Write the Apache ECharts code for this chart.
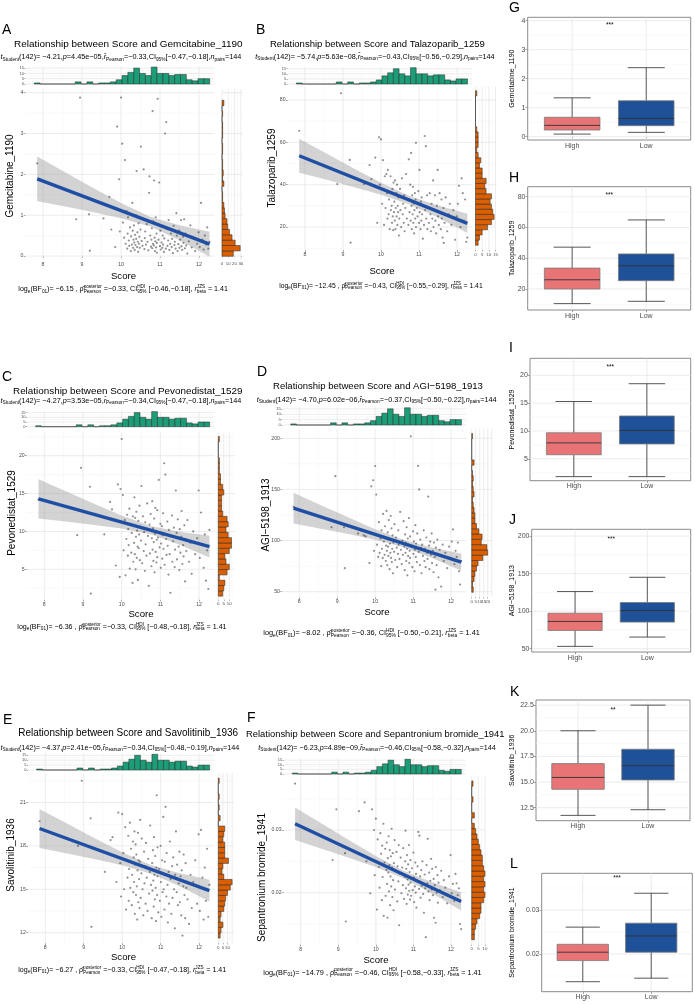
<!DOCTYPE html>
<html>
<head>
<meta charset="utf-8">
<script src="https://cdn.jsdelivr.net/npm/echarts@6/dist/echarts.min.js"></script>
<style>
  html, body { margin: 0; padding: 0; background: #fff; }
  #chart { width: 695px; height: 1004px; }
</style>
</head>
<body>
<div id="chart"></div>
<script>
// Score of the 144 cell lines (shared by the six scatter panels)
const score = [7.85,
  8.85, 8.95, 9.18, 9.2, 9.55, 9.7, 9.75, 9.85,
  9.9, 9.95, 9.97, 10.0,
  10.03, 10.05, 10.08, 10.1, 10.12, 10.14, 10.16, 10.17,
  10.18, 10.2, 10.21, 10.23, 10.25, 10.26, 10.28, 10.29, 10.3, 10.31, 10.32,
  10.33, 10.34, 10.35, 10.36, 10.37, 10.38, 10.39, 10.4, 10.41, 10.42, 10.43, 10.44, 10.45, 10.46, 10.47,
  10.48, 10.5, 10.51, 10.53, 10.55, 10.57, 10.58, 10.6, 10.61, 10.62,
  10.64, 10.66, 10.68, 10.7, 10.72, 10.73, 10.75, 10.77,
  10.78, 10.79, 10.8, 10.81, 10.82, 10.83, 10.84, 10.85, 10.86, 10.87, 10.88, 10.89, 10.9, 10.91, 10.92, 10.92,
  10.94, 10.96, 10.98, 11.0, 11.01, 11.02, 11.04, 11.05, 11.06, 11.07,
  11.08, 11.1, 11.11, 11.13, 11.15, 11.16, 11.18, 11.19, 11.21, 11.22,
  11.24, 11.26, 11.28, 11.3, 11.31, 11.33, 11.35, 11.37,
  11.38, 11.4, 11.42, 11.43, 11.45, 11.47, 11.49, 11.5, 11.52,
  11.54, 11.55, 11.57, 11.59, 11.6, 11.62, 11.64, 11.65, 11.67,
  11.7, 11.74, 11.78, 11.81, 11.85, 11.9, 11.95,
  11.99, 12.02, 12.05, 12.09, 12.12, 12.15, 12.18, 12.21, 12.24, 12.27];

const gemcitabine = [2.27,0.9,3.88,1.02,0.13,0.92,1.45,0.65,0.22,3.17,
  1.88,0.6,3.88,2.75,0.82,0.45,2.35,0.3,1.1,0.18, 0.55,0.95,0.38,0.25,0.7,0.12,0.48,0.28,1.3,0.62,
  0.2,0.4,0.75,0.33,0.15,0.52,0.27,1.0,0.42,2.08, 0.22,0.58,0.35,0.1,0.8,0.3,0.47,0.2,0.65,2.68,
  0.37,0.25,0.9,2.12,0.17,0.44,0.6,0.28,0.78,0.35, 0.14,1.55,1.95,0.5,0.23,0.4,0.68,0.19,3.55,0.3,
  0.85,0.26,1.85,0.45,0.12,0.36,0.95,0.21,0.55,0.32, 0.08,3.85,0.4,1.8,0.24,0.62,0.16,0.33,0.72,0.2,
  0.5,0.28,0.1,0.43,3.0,0.18,3.28,0.66,0.25,0.38, 0.88,0.15,0.3,0.55,0.22,0.42,0.07,0.74,0.27,0.35,
  0.18,1.05,0.5,0.12,0.29,0.62,0.2,0.4,0.88,0.24, 0.15,0.47,0.32,0.9,0.19,0.55,0.26,0.06,0.36,0.75,
  0.21,0.45,0.12,0.3,0.58,0.22,1.3,0.4,0.16,0.5, 0.28,0.7,0.18,0.35];
const talazoparib = [65.5,40.3,83.2,51.7,12.6,40.3,49.3,42.7,52.8,22.0,
  62.4,40,61.4,31,51.6,21,44,29,45,36, 24,47,26,33,19,44,28,30,22,38,
  25,18.5,41,27,32,23,42,19,29,36, 25,40,21,30,27,34,16,24,38,28,
  20,43,26,31,22,35,18,29,45,24, 33,21,52,27,40,23,55,30,19,35,
  26,39,22,31,17,28,36,24,33,59.8, 20,29,25,37,22,47,27,19,32,23,
  34,26,14.5,30,21,63,28,58.2,24,35, 19,29,22,36,26,18,31,24,42,20,
  28,35,23,17,30,47,25,21,36,27, 19,33,24,15,29,12.5,22,34,18,26,
  31,21,28,14,25,31,39.5,20,43,36, 23,33,13,15];
const pevonedistat = [14.2,9.5,18.4,15.9,1.8,9.6,13.9,12.9,5.5,16.2,
  4.0,15.6,22.2,14.8,7.5,11.5,4.2,9.0,12.2,6.8, 10.3,8.2,13.0,5.1,11.0,7.2,9.8,3.2,12.0,6.0,
  10.8,8.5,14.5,7.0,11.8,5.0,9.3,12.6,6.5,10.1, 8.0,3.6,11.4,7.8,9.6,13.4,6.2,10.6,8.8,16.0,
  5.8,12.0,7.4,9.9,4.8,11.2,8.3,6.8,13.7,9.4, 2.8,10.9,7.1,12.3,5.4,9.1,14.0,7.6,10.4,6.1,
  8.6,11.7,4.6,9.7,13.1,7.3,10.0,5.9,8.9,12.8, 6.6,9.2,16.8,7.9,11.0,5.2,8.4,10.7,6.4,9.5,
  12.4,7.7,19.0,5.6,17.5,9.0,6.9,11.3,8.1,4.3, 10.2,7.0,1.9,9.4,12.1,6.0,8.7,10.5,5.3,7.6,
  15.4,9.8,6.3,11.6,8.0,4.9,10.3,7.2,9.3,12.7, 5.7,8.2,6.7,10.8,3.4,9.0,7.4,11.5,6.0,8.5,
  4.4,10.0,7.0,9.1,15.4,6.5,12.5,8.3,5.2,9.6, 3.5,7.5,2.4,10.2];
const agi5198 = [133,113,163,113,73,107,105,104,78,153,
  159,90,172.9,145,96,84,118,88,102,75, 110,92,83,126,99,86,114,80,95,129,
  90,76,108,94,85,120,101,72,97,88, 124,83,112,79,92,105,68,98,89,116,
  81,103,93,74,87,110,96,82,128,91, 77,100,86,119,94,71,106,88,98,80,
  113,92,66,102,85,96,122,78,90,104, 83,202,95,74,109,87,99,70,91,115,
  84,97,79,107,173,89,150,76,101,93, 68,96,85,110,80,92,74,103,88,82,
  143,95,72,99,86,107,78,90,69,98, 84,52,93,76,101,87,64,91,55,96,
  80,88,73,94,83,99,111,77,90,84, 98,70,57,80];
const savolitinib = [19.7,18.0,22.5,19.9,12.4,16.2,18.4,18.6,15.5,20.3,
  16.8,14.5,20.2,17.5,15.0,19.3,13.6,17.0,15.8,18.7, 14.2,16.4,19.6,15.1,17.8,13.9,16.0,18.3,14.8,17.2,
  15.5,19.0,13.3,16.7,18.1,14.6,17.4,15.2,12.9,16.3, 18.9,14.1,17.0,15.7,13.7,16.9,19.8,14.4,16.1,18.5,
  15.0,13.2,17.6,15.4,16.6,14.0,18.2,15.8,13.5,17.1, 14.7,16.2,19.4,15.3,13.0,16.8,14.9,17.7,15.6,13.8,
  18.6,16.0,14.3,17.3,15.1,12.8,16.5,21.5,14.6,17.9, 15.9,13.4,16.4,14.2,18.0,15.5,13.1,17.0,14.8,16.1,
  20.0,15.0,13.6,16.9,20.7,14.5,17.5,15.3,12.7,16.2, 14.0,18.3,15.7,13.3,16.6,14.4,17.2,15.0,12.3,16.0,
  19.0,14.8,16.7,13.9,15.4,17.6,14.1,15.9,13.2,16.3, 11.8,15.2,17.4,14.6,13.0,16.8,15.1,14.3,12.6,16.0,
  13.7,15.5,17.0,14.0,18.8,13.5,19.1,15.8,12.9,16.5, 14.2,17.8,13.1,15.3];
const sepantronium = [0.0374,0.0252,0.0333,0.0263,0.0154,0.0330,0.0344,0.0250,0.0199,0.0333,
  0.0300,0.0228,0.0318,0.0173,0.0285,0.0241,0.0208,0.0295,0.0262,0.0188,
  0.0275,0.0225,0.0310,0.0163,0.0248,0.0270,0.0195,0.0236,0.0280,0.0214,
  0.0160,0.0255,0.0232,0.0290,0.0202,0.0244,0.0268,0.0180,0.0226,0.0258,
  0.0210,0.0302,0.0240,0.0193,0.0263,0.0220,0.0172,0.0247,0.0284,0.0205,
  0.0234,0.0265,0.0186,0.0242,0.0218,0.0276,0.0148,0.0230,0.0256,0.0199,
  0.0240,0.0212,0.0271,0.0190,0.0225,0.0250,0.0299,0.0207,0.0238,0.0182,
  0.0260,0.0221,0.0197,0.0245,0.0213,0.0276,0.0203,0.0233,0.0189,0.0252,
  0.0216,0.0195,0.0239,0.0204,0.0264,0.0224,0.0185,0.0210,0.0248,0.0200,
  0.0230,0.0176,0.0218,0.0242,0.0297,0.0206,0.0291,0.0226,0.0192,0.0236,
  0.0211,0.0250,0.0198,0.0168,0.0229,0.0207,0.0129,0.0244,0.0215,0.0286,
  0.0202,0.0232,0.0188,0.0219,0.0254,0.0205,0.0238,0.0196,0.0222,0.0160,
  0.0212,0.0152,0.0241,0.0200,0.0228,0.0184,0.0216,0.0204,0.0235,0.0193,
  0.0220,0.0208,0.0183,0.0226,0.0260,0.0199,0.0214,0.0187,0.0230,0.0215,
  0.0196,0.0207,0.0150,0.0142];

// marginal histogram of Score (top, 30 bins)
const scoreBins = { start: 7.775, width: 0.15 };
const scoreCounts = [1,0,0,0,0,0,0,2,0,2,0,1,1,2,4,8,11,15,10,8,16,10,10,8,9,9,4,3,5,5];

// marginal histograms of each drug (right side, 30 bins, low to high)
const gemBins = { start: -0.006, width: 0.1317 };
const gemCounts = [18,29,21,16,12,9,8,5,4,3,1,1,0,3,1,2,1,1,0,1,1,0,1,1,1,0,1,0,3];
const talBins = { start: 11.38, width: 2.434 };
const talCounts = [2,3,5,9,12,14,13,12,11,12,8,7,8,5,5,3,4,2,1,2,2,2,1,0,0,0,0,0,0,1];
const pevBins = { start: 1.45, width: 0.703 };
const pevCounts = [4,5,6,1,8,10,7,6,10,12,12,9,7,9,8,4,3,3,3,5,4,2,2,1,1,1,0,0,0,1];
const agiBins = { start: 49.4, width: 5.18 };
const agiCounts = [2,1,3,4,6,8,14,20,19,12,13,9,6,4,4,3,2,1,3,2,1,2,1,0,3,0,0,0,0,1];
const savBins = { start: 11.62, width: 0.369 };
const savCounts = [2,3,5,2,3,6,7,8,10,13,15,6,4,5,11,7,7,7,5,6,7,0,2,0,1,0,1,0,0,1];
const sepBins = { start: 0.01248, width: 0.000845 };
const sepCounts = [2,2,3,4,6,7,7,9,10,9,10,9,10,9,8,8,7,6,5,4,3,2,0,2,0,0,1,0,0,1];

// linear fit and its 95% band, read at these scores
const fitX = [7.85, 8.6, 9.3, 10, 10.75, 11.5, 12.27];
const gemFit = [1.89, 1.62, 1.365, 1.112, 0.84, 0.569, 0.29];
const gemHalf = [0.55, 0.415, 0.294, 0.184, 0.12, 0.184, 0.306];
const talFit = [53.7, 48.3, 43.2, 38.1, 32.7, 27.3, 21.7];
const talHalf = [8, 6.08, 4.36, 2.83, 2.0, 2.83, 4.52];
const pevFit = [14.3, 13.23, 12.23, 11.24, 10.17, 9.1, 8.0];
const pevHalf = [2.6, 1.96, 1.38, 0.86, 0.55, 0.86, 1.44];
const agiFit = [131.7, 122.7, 114.4, 106.0, 97.0, 88.1, 78.9];
const agiHalf = [15, 11.4, 8.1, 5.1, 3.5, 5.1, 8.4];
const savFit = [19.2, 18.47, 17.79, 17.11, 16.38, 15.65, 14.9];
const savHalf = [1.35, 1.02, 0.72, 0.45, 0.3, 0.45, 0.75];
const sepFit = [0.0310, 0.0289, 0.02693, 0.02497, 0.02287, 0.02076, 0.0186];
const sepHalf = [0.0026, 0.00197, 0.0014, 0.00089, 0.0006, 0.00089, 0.00146];

// statistics printed above / below each scatter panel
const drugNames = ['Gemcitabine_1190', 'Talazoparib_1259', 'Pevonedistat_1529', 'AGI\u22125198_1913', 'Savolitinib_1936', 'Sepantronium bromide_1941'];
const panelTags = ['A', 'B', 'C', 'D', 'E', 'F'];
const tStat = ['-4.21', '-5.74', '-4.27', '-4.70', '-4.37', '-6.23'];
const pVal = ['4.45e-05', '5.63e-08', '3.53e-05', '6.02e-06', '2.41e-05', '4.89e-09'];
const rPearson = ['-0.33', '-0.43', '-0.34', '-0.37', '-0.34', '-0.46'];
const ciPearson = ['[-0.47,-0.18]', '[-0.56,-0.29]', '[-0.47,-0.18]', '[-0.50,-0.22]', '[-0.48,-0.19]', '[-0.58,-0.32]'];
const logBF = ['-6.15', '-12.45', '-6.36', '-8.02', '-6.27', '-14.79'];
const rhoPost = ['-0.33', '-0.43', '-0.33', '-0.36', '-0.33', '-0.46'];
const ciHDI = ['[-0.46,-0.18]', '[-0.55,-0.29]', '[-0.48,-0.18]', '[-0.50,-0.21]', '[-0.47,-0.18]', '[-0.58,-0.33]'];

// box plots G-L: [min, Q1, median, Q3, max] for High / Low score groups
const groups = ['High', 'Low'];
const boxTags = ['G', 'H', 'I', 'J', 'K', 'L'];
const boxStars = ['***', '***', '***', '***', '**', '***'];
const boxStats = [
  [[0.09, 0.23, 0.39, 0.67, 1.34], [0.15, 0.38, 0.63, 1.24, 2.38]],
  [[10.5, 20.0, 26.0, 33.6, 47.2], [12.0, 25.4, 35.1, 42.8, 64.9]],
  [[1.79, 5.73, 7.86, 9.68, 15.3], [1.79, 7.67, 10.1, 12.7, 18.5]],
  [[53.1, 74.3, 86.3, 97.3, 126.1], [65.5, 85.4, 100.9, 111.5, 145.1]],
  [[11.75, 14.29, 15.45, 16.8, 20.0], [12.3, 15.2, 16.6, 18.2, 22.5]],
  [[0.0137, 0.0185, 0.0204, 0.0222, 0.0261], [0.0145, 0.0204, 0.0241, 0.0270, 0.0338]]
];

const values = [gemcitabine, talazoparib, pevonedistat, agi5198, savolitinib, sepantronium];
const binsY = [gemBins, talBins, pevBins, agiBins, savBins, sepBins];
const countsY = [gemCounts, talCounts, pevCounts, agiCounts, savCounts, sepCounts];
const fits = [gemFit, talFit, pevFit, agiFit, savFit, sepFit];
const halves = [gemHalf, talHalf, pevHalf, agiHalf, savHalf, sepHalf];

// ---------- layout (pixels) ----------
const FONT = '"Liberation Sans", Arial, sans-serif';
const GREEN = '#1b9e77', ORANGE = '#d95f02', LINE = '#1f4ea5';
const MAJOR = '#e4e4e4', MINOR = '#f2f2f2';
const X_RANGE = [7.55, 12.4];
const xMaj = [8, 9, 10, 11, 12], xMin = [8.5, 9.5, 10.5, 11.5];

const scatterLayout = [
  { main: [25.5, 214.6, 89, 259.7], y: [-0.09, 4.09], yMaj: [0, 1, 2, 3, 4], yMin: [0.5, 1.5, 2.5, 3.5],
    top: [66, 84], right: [222, 242.7], rMax: 33, rTicks: [0, 10, 20, 30], rMin: [5, 15, 25],
    tag: [2, 30.5], title: [14, 243, 44], sub: [0.5, 242, 57], foot: [18.3, 228.3, 289.5], score: [123.5, 276.7], ytitle: [10.5, 176] },
  { main: [287.8, 472.3, 86.5, 250.1], y: [9.1, 86.4], yMaj: [20, 40, 60, 80], yMin: [10, 30, 50, 70],
    top: [66.7, 84], right: [475.5, 496.8], rMax: 16, rTicks: [0, 5, 10, 15], rMin: [2.5, 7.5, 12.5],
    tag: [256, 30], title: [270, 485, 44], sub: [255.3, 495, 56.7], foot: [279.3, 483, 286], score: [382, 271], ytitle: [272, 168] },
  { main: [26.9, 214.5, 432.2, 599.6], y: [1.0, 23.1], yMaj: [5, 10, 15, 20], yMin: [2.5, 7.5, 12.5, 17.5, 22.5],
    top: [410.7, 426.7], right: [218.3, 234.8], rMax: 15, rTicks: [0, 5, 10], rMin: [2.5, 7.5, 12.5],
    tag: [2, 377.5], title: [13, 243, 391.7], sub: [0.5, 242, 400.5], foot: [17.3, 226.7, 626.7], score: [141, 614.5], ytitle: [12, 513] },
  { main: [282.2, 466.2, 428.6, 597.3], y: [44.5, 209.5], yMaj: [50, 100, 150, 200], yMin: [75, 125, 175],
    top: [406.7, 425], right: [471.7, 492.5], rMax: 26, rTicks: [0, 5, 10, 15, 20, 25], rMin: [],
    tag: [257, 372], title: [273, 483, 386.5], sub: [256.7, 497, 400], foot: [263.3, 480, 633], score: [377, 612], ytitle: [266, 515] },
  { main: [28, 214.4, 773.1, 943.2], y: [11.27, 23.03], yMaj: [12, 15, 18, 21], yMin: [13.5, 16.5, 19.5, 22.5],
    top: [753.3, 770], right: [218.3, 234], rMax: 17, rTicks: [0, 5, 10, 15], rMin: [2.5, 7.5, 12.5],
    tag: [3, 720.5], title: [18.3, 238.3, 733.5], sub: [0.5, 240, 748], foot: [18.3, 226.7, 970], score: [123.5, 957], ytitle: [11.5, 855] },
  { main: [283.8, 466, 776.1, 944.7], y: [0.0117, 0.0386], yMaj: [0.02, 0.03], yMin: [0.015, 0.025, 0.035],
    top: [758.3, 774], right: [471.7, 485.7], rMax: 10.5, rTicks: [0, 5, 10], rMin: [2.5, 7.5],
    tag: [247, 717.7], title: [246, 505, 734], sub: [258.3, 496, 748], foot: [263.3, 482, 972.5], score: [376, 960.5], ytitle: [262, 877.5] }
];

const boxLayout = [
  { box: [527.7, 690.7, 17.3, 140], y: [-0.114, 4.117], yMaj: [0, 1, 2, 3, 4], yMin: [0.5, 1.5, 2.5, 3.5], tag: [509, 8], star: [609.7, 25], ytitle: 512.5 },
  { box: [527.7, 690.7, 186.7, 310], y: [6.35, 86.5], yMaj: [20, 40, 60, 80], yMin: [10, 30, 50, 70], tag: [509, 177.7], star: [609.2, 195], ytitle: 512 },
  { box: [530, 690.7, 358.3, 480.7], y: [1.06, 23.07], yMaj: [5, 10, 15, 20], yMin: [2.5, 7.5, 12.5, 17.5, 22.5], tag: [509, 348], star: [610.3, 367.7], ytitle: 512 },
  { box: [531.7, 690.7, 529.3, 652], y: [45.6, 209], yMaj: [50, 100, 150, 200], yMin: [75, 125, 175], tag: [509, 520], star: [611.2, 539.3], ytitle: 512 },
  { box: [536, 690, 700, 820.7], y: [11.23, 23.0], yMaj: [12.5, 15, 17.5, 20, 22.5], yMin: [13.75, 16.25, 18.75, 21.25], tag: [510, 691.7], star: [613, 710], ytitle: 512.5, fmt: v => v.toFixed(1) },
  { box: [541.7, 692.3, 873.3, 991.7], y: [0.01143, 0.03833], yMaj: [0.02, 0.03], yMin: [0.015, 0.025, 0.035], tag: [510, 864], star: [617, 878.3], ytitle: 512 }
];

// ---------- builders ----------
const grids = [], xAxes = [], yAxes = [], series = [], graphics = [];
const minus = s => s.replace(/-/g, '\u2212');

function addGrid(l, r, t, b, extra) {
  grids.push(Object.assign({ left: l, top: t, width: r - l, height: b - t, show: false }, extra || {}));
  return grids.length - 1;
}
function axis(g, range, lab) {
  const a = { type: 'value', gridIndex: g, min: range[0], max: range[1],
    axisLine: { show: false }, splitLine: { show: false }, axisTick: { show: false }, axisLabel: { show: false } };
  if (lab) {
    a.axisTick = { show: true, customValues: lab.ticks, length: lab.tick || 1.8, lineStyle: { color: '#4d4d4d', width: 0.5 } };
    a.axisLabel = { show: true, customValues: lab.ticks, fontSize: lab.fs, fontFamily: FONT, color: lab.color || '#4d4d4d', margin: lab.margin };
    if (lab.fmt) a.axisLabel.formatter = lab.fmt;
  }
  return a;
}
function gridLines(g, xr, yr, xa, xb, ya, yb) {
  return { type: 'custom', xAxisIndex: g, yAxisIndex: g, silent: true, z: 1, data: [[xr[0], yr[0]]],
    renderItem(params, api) {
      const ch = [];
      const ln = (p, q, col, w) => ch.push({ type: 'line', shape: { x1: p[0], y1: p[1], x2: q[0], y2: q[1] }, style: { stroke: col, lineWidth: w } });
      xb.forEach(v => ln(api.coord([v, yr[0]]), api.coord([v, yr[1]]), MINOR, 0.5));
      yb.forEach(v => ln(api.coord([xr[0], v]), api.coord([xr[1], v]), MINOR, 0.5));
      xa.forEach(v => ln(api.coord([v, yr[0]]), api.coord([v, yr[1]]), MAJOR, 0.7));
      ya.forEach(v => ln(api.coord([xr[0], v]), api.coord([xr[1], v]), MAJOR, 0.7));
      return { type: 'group', children: ch };
    } };
}
function histSeries(g, bins, counts, color, horizontal) {
  return { type: 'custom', xAxisIndex: g, yAxisIndex: g, silent: true, z: 3,
    data: counts.map((c, i) => [bins.start + i * bins.width, bins.start + (i + 1) * bins.width, c]),
    renderItem(params, api) {
      const a = api.value(0), b = api.value(1), c = api.value(2);
      const p0 = horizontal ? api.coord([0, a]) : api.coord([a, 0]);
      const p1 = horizontal ? api.coord([c, b]) : api.coord([b, c]);
      return { type: 'rect',
        shape: { x: Math.min(p0[0], p1[0]), y: Math.min(p0[1], p1[1]), width: Math.abs(p1[0] - p0[0]), height: Math.abs(p1[1] - p0[1]) },
        style: { fill: color, stroke: '#262626', lineWidth: 0.5 } };
    } };
}

// text rows with sub/superscripts, fitted to a measured width
const measure = document.createElement('canvas').getContext('2d');
const SUB = 0.66;
function textW(t, size, it) { measure.font = (it ? 'italic ' : '') + size + 'px ' + FONT; return measure.measureText(t).width; }
function partW(p, fs) {
  if (p[1] === 'b') return textW(p[0], fs * SUB, false);
  if (p[1] === 's') return Math.max.apply(null, p[0].split('|').map(s => textW(s, fs * SUB, false)));
  return textW(p[0], fs, p[1] === 'i');
}
function put(text, x, y, size, opts) {
  graphics.push(Object.assign({ type: 'text', x: x, y: y, silent: true,
    style: Object.assign({ text: text, fontSize: size, fontFamily: FONT, fill: '#000', align: 'left', verticalAlign: 'middle' }, (opts && opts.style) || {}) },
    (opts && opts.el) || {}));
}
function mathRow(parts, x0, x1, cy, color) {
  const w10 = parts.reduce((s, p) => s + partW(p, 10), 0);
  const fs = 10 * (x1 - x0) / w10;
  let x = x0;
  parts.forEach(p => {
    const st = { fill: color || '#000' };
    if (p[1] === 'b') put(p[0], x, cy + fs * 0.3, fs * SUB, { style: st });
    else if (p[1] === 's') {
      const ab = p[0].split('|');
      put(ab[0], x, cy - fs * 0.33, fs * SUB, { style: st });
      put(ab[1], x, cy + fs * 0.33, fs * SUB, { style: st });
    } else put(p[0], x, cy, fs, { style: Object.assign({ fontStyle: p[1] === 'i' ? 'italic' : 'normal' }, st) });
    x += partW(p, fs);
  });
}

// ---------- scatter panels A-F ----------
scatterLayout.forEach((L, i) => {
  const vals = values[i];
  const labSmall = { fs: 5.2, margin: 2.2 };
  // main scatter panel
  let g = addGrid(L.main[0], L.main[1], L.main[2], L.main[3]);
  xAxes.push(axis(g, X_RANGE, Object.assign({ ticks: xMaj }, labSmall)));
  yAxes.push(axis(g, L.y, Object.assign({ ticks: L.yMaj }, labSmall)));
  series.push(gridLines(g, X_RANGE, L.y, xMaj, xMin, L.yMaj, L.yMin));
  const fy = fits[i], hw = halves[i];
  series.push({ type: 'custom', xAxisIndex: g, yAxisIndex: g, silent: true, z: 2, data: [[fitX[0], fy[0]]],
    renderItem(params, api) {
      const up = fitX.map((x, k) => api.coord([x, fy[k] + hw[k]]));
      const lo = fitX.map((x, k) => api.coord([x, fy[k] - hw[k]])).reverse();
      return { type: 'polygon', shape: { points: up.concat(lo) }, style: { fill: 'rgba(150,150,150,0.42)' } };
    } });
  series.push({ type: 'scatter', xAxisIndex: g, yAxisIndex: g, silent: true, z: 3, symbolSize: 2.2,
    itemStyle: { color: 'rgba(45,45,45,0.65)' }, data: score.map((s, k) => [s, vals[k]]) });
  series.push({ type: 'line', xAxisIndex: g, yAxisIndex: g, silent: true, z: 4, symbol: 'none',
    lineStyle: { color: LINE, width: 3.4 }, data: [[fitX[0], fy[0]], [fitX[fitX.length - 1], fy[fy.length - 1]]] });

  // top histogram (Score)
  g = addGrid(L.main[0], L.main[1], L.top[0], L.top[1]);
  xAxes.push(axis(g, X_RANGE, null));
  yAxes.push(axis(g, [0, 17], { ticks: [0, 5, 10, 15], fs: 4, margin: 1.5, tick: 1.2 }));
  series.push(gridLines(g, X_RANGE, [0, 17], xMaj, xMin, [0, 5, 10, 15], [2.5, 7.5, 12.5]));
  series.push(histSeries(g, scoreBins, scoreCounts, GREEN, false));

  // right histogram (drug)
  g = addGrid(L.right[0], L.right[1], L.main[2], L.main[3]);
  xAxes.push(axis(g, [0, L.rMax], { ticks: L.rTicks, fs: 4.4, margin: 2.2, tick: 1.2 }));
  yAxes.push(axis(g, L.y, null));
  series.push(gridLines(g, [0, L.rMax], L.y, L.rTicks, L.rMin, L.yMaj, L.yMin));
  series.push(histSeries(g, binsY[i], countsY[i], ORANGE, true));

  // texts
  put(panelTags[i], L.tag[0], L.tag[1], 14);
  mathRow([['Relationship between Score and ' + drugNames[i], '']], L.title[0], L.title[1], L.title[2]);
  mathRow([['t', 'i'], ['Student', 'b'], ['(142)= ' + minus(tStat[i]) + ',', ''], ['p', 'i'], ['=' + minus(pVal[i]) + ',', ''],
    ['r\u0302', 'i'], ['Pearson', 'b'], ['=' + minus(rPearson[i]) + ',CI', ''], ['95%', 'b'], [minus(ciPearson[i]) + ',', ''],
    ['n', 'i'], ['pairs', 'b'], ['=144', '']], L.sub[0], L.sub[1], L.sub[2]);
  mathRow([['log', ''], ['e', 'b'], ['(BF', ''], ['01', 'b'], [')= ' + minus(logBF[i]) + ' , ', ''], ['\u03c1\u0302', ''], ['posterior|Pearson', 's'],
    [' =' + minus(rhoPost[i]) + ', CI', ''], ['HDI|95%', 's'], [' ' + minus(ciHDI[i]) + ', ', ''], ['r', 'i'], ['JZS|beta', 's'], [' = 1.41', '']],
    L.foot[0], L.foot[1], L.foot[2]);
  put('Score', L.score[0], L.score[1], 9.6, { style: { align: 'center' } });
  put(drugNames[i], L.ytitle[0], L.ytitle[1], 10, { style: { align: 'center' }, el: { rotation: Math.PI / 2 } });
});

// ---------- box plots G-L ----------
const BOX_FILL = ['#e87476', '#1e5197'];
boxLayout.forEach((L, i) => {
  const g = addGrid(L.box[0], L.box[1], L.box[2], L.box[3], { show: true, borderColor: '#8a8a8a', borderWidth: 1, backgroundColor: '#fff' });
  xAxes.push(axis(g, [0.4, 2.6], { ticks: [1, 2], fs: 7, margin: 2.2, tick: 2.2, fmt: v => groups[Math.round(v) - 1] }));
  yAxes.push(axis(g, L.y, { ticks: L.yMaj, fs: 7, margin: 2.2, tick: 2.2, fmt: L.fmt }));
  series.push(gridLines(g, [0.4, 2.6], L.y, [1, 2], [], L.yMaj, L.yMin));
  series.push({ type: 'custom', xAxisIndex: g, yAxisIndex: g, silent: true, z: 3,
    data: boxStats[i].map((s, k) => [k + 1].concat(s)),
    renderItem(params, api) {
      const x = api.value(0), v = [1, 2, 3, 4, 5].map(k => api.value(k));
      const c = (a, b) => api.coord([a, b]);
      const ln = (p, q, col, w) => ({ type: 'line', shape: { x1: p[0], y1: p[1], x2: q[0], y2: q[1] }, style: { stroke: col, lineWidth: w } });
      const tl = c(x - 0.375, v[3]), br = c(x + 0.375, v[1]);
      return { type: 'group', children: [
        ln(c(x, v[3]), c(x, v[4]), '#333', 0.8),
        ln(c(x, v[0]), c(x, v[1]), '#333', 0.8),
        ln(c(x - 0.25, v[4]), c(x + 0.25, v[4]), '#444', 0.9),
        ln(c(x - 0.25, v[0]), c(x + 0.25, v[0]), '#444', 0.9),
        { type: 'rect', shape: { x: tl[0], y: tl[1], width: br[0] - tl[0], height: br[1] - tl[1] },
          style: { fill: BOX_FILL[params.dataIndex], stroke: '#7a7a7a', lineWidth: 0.8 } },
        ln(c(x - 0.375, v[2]), c(x + 0.375, v[2]), '#333', 0.9)
      ] };
    } });
  put(boxTags[i], L.tag[0], L.tag[1], 14);
  put(boxStars[i], L.star[0], L.star[1], 6.5, { style: { align: 'center' } });
  put(drugNames[i], L.ytitle, (L.box[2] + L.box[3]) / 2, 7, { style: { align: 'center' }, el: { rotation: Math.PI / 2 } });
});

const chart = echarts.init(document.getElementById('chart'), null, { renderer: 'canvas' });
chart.setOption({
  animation: false,
  backgroundColor: '#fff',
  grid: grids,
  xAxis: xAxes,
  yAxis: yAxes,
  series: series,
  graphic: graphics
});
</script>
</body>
</html>
